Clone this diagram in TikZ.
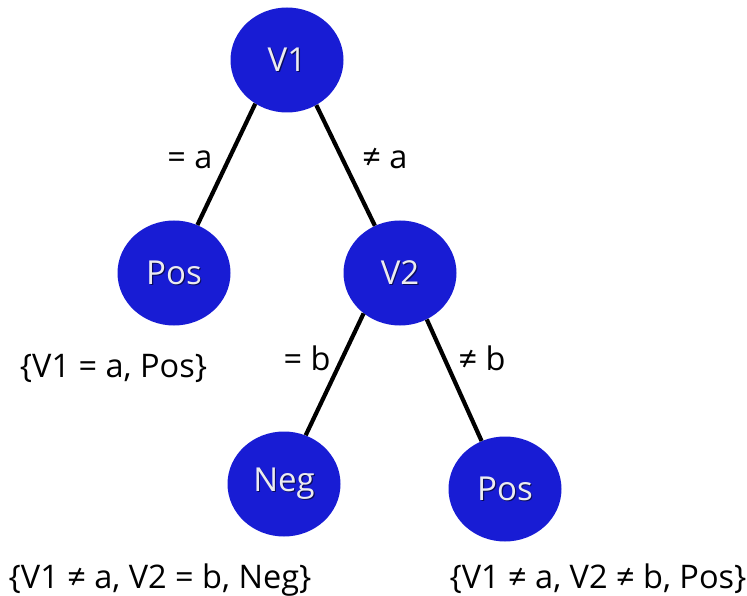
\documentclass[tikz,border=0pt]{standalone}
\usepackage{fontspec}
\setmainfont{Open Sans}
\usetikzlibrary{shapes.geometric}
\definecolor{nodeblue}{RGB}{24,28,212}
\definecolor{nodetext}{RGB}{236,236,240}
\definecolor{shadowc}{RGB}{10,12,90}
\newcommand{\nodelabel}[1]{\raisebox{-3pt}{\makebox[0pt]{\raisebox{-1.2pt}{\hspace{2.4pt}\textcolor{shadowc}{#1}}}\makebox[0pt]{\textcolor{nodetext}{#1}}}}
\begin{document}
\begin{tikzpicture}[x=1pt,y=-1pt,
  treenode/.style={ellipse,fill=nodeblue,minimum width=113pt,minimum height=105pt,inner sep=0pt,
    font=\fontsize{33}{38}\selectfont},
  edge/.style={line width=4.2pt,black},
  lbl/.style={font=\fontsize{32.5}{38}\selectfont,anchor=base,inner sep=0pt}]
\useasboundingbox (0,0) rectangle (747,596);
\node[treenode] (v1) at (287,60) {\nodelabel{V1}};
\node[treenode] (pos1) at (174,273) {\nodelabel{Pos}};
\node[treenode] (v2) at (400,273) {\nodelabel{V2}};
\node[treenode] (neg) at (284,484) {\nodelabel{Neg}};
\node[treenode] (pos2) at (505,489) {\nodelabel{Pos}};
\draw[edge] (v1.234) -- (pos1.64);
\draw[edge] (v1.303) -- (v2.118);
\draw[edge] (v2.228) -- (neg.66);
\draw[edge] (v2.300) -- (pos2.116);
\node[lbl] (la) at (190,169) {= a};
\node[lbl] (lna) at (385,169) {≠ a};
\node[lbl] (lb) at (307,370) {= b};
\node[lbl] (lnb) at (482,370) {≠ b};
\node[lbl] (t1) at (113.5,377) {\{V1 = a, Pos\}};
\node[lbl] (t2) at (160,588) {\{V1 ≠ a, V2 = b, Neg\}};
\node[lbl] (t3) at (598,588) {\{V1 ≠ a, V2 ≠ b, Pos\}};
\end{tikzpicture}
\end{document}
